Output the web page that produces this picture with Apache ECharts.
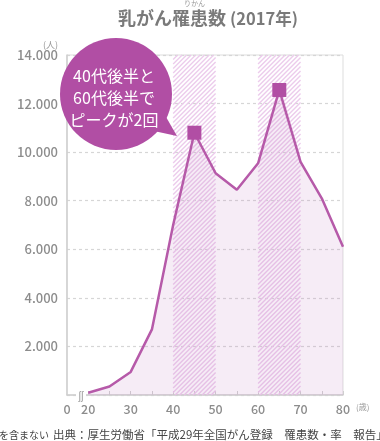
<!DOCTYPE html>
<html>
<head>
<meta charset="utf-8">
<script src="https://cdn.jsdelivr.net/npm/echarts@6/dist/echarts.min.js"></script>
<style>
html,body{margin:0;padding:0;background:#fff;}
#c{width:380px;height:441px;}
</style>
</head>
<body>
<div id="c"></div>
<script>
const ages = [20, 25, 30, 35, 40, 45, 50, 55, 60, 65, 70, 75, 80];
const cases = [90, 350, 950, 2700, 7000, 10800, 9130, 8450, 9540, 12560, 9600, 8100, 6100];
const peakAges = [45, 65];
const hatchBands = [[40, 50], [60, 70]];
const xLabelValues = [15, 20, 30, 40, 50, 60, 70, 80];
const xTickValues = [20, 25, 30, 35, 40, 45, 50, 55, 60, 65, 70, 75, 80];
const calloutLines = ['40代後半と', '60代後半で', 'ピークが2回'];

const FONT = '"Noto Sans CJK JP", "Noto Sans", sans-serif';
const PURPLE = '#b14ea4';
const HATCH = 'rgb(236,204,236)';
const Y_MAX = 14000;

function renderHatch(params, api) {
  const a = api.coord([api.value(0), Y_MAX]);
  const b = api.coord([api.value(1), 0]);
  const L = a[0], T = a[1], R = b[0], B = b[1];
  const children = [];
  const step = 4.5;
  for (let c = L + T; c <= R + B; c += step) {
    const xa = Math.max(L, c - B), xb = Math.min(R, c - T);
    if (xb <= xa) continue;
    children.push({ type: 'line', shape: { x1: xa, y1: c - xa, x2: xb, y2: c - xb },
      style: { stroke: HATCH, lineWidth: 1.4 } });
  }
  return { type: 'group', children };
}

const chart = echarts.init(document.getElementById('c'));
chart.setOption({
  animation: false,
  textStyle: { fontFamily: FONT },
  grid: { left: 67, right: 37, top: 55, bottom: 46, show: true, borderColor: '#dddddd', borderWidth: 1 },
  xAxis: {
    type: 'value', min: 15, max: 80,
    name: '(歳)', nameLocation: 'end', nameGap: 6,
    nameTextStyle: { fontSize: 8, color: '#999', verticalAlign: 'top', padding: [8, 0, 0, 0] },
    axisLine: { show: true, lineStyle: { color: '#cfcfcf', width: 1.5 } },
    axisTick: { show: true, inside: true, length: 4, customValues: xTickValues, lineStyle: { color: '#cfcfcf' } },
    axisLabel: {
      customValues: xLabelValues, color: '#8c8c8c', fontSize: 12.5, margin: 8, fontWeight: 500,
      formatter: v => v === 15 ? '0' : String(v)
    },
    splitLine: { show: false }
  },
  yAxis: {
    type: 'value', min: 0, max: Y_MAX, interval: 2000,
    name: '(人)', nameLocation: 'end', nameGap: 4,
    nameTextStyle: { fontSize: 9, color: '#999', align: 'right', padding: [0, 9, 0, 0] },
    axisLine: { show: true, lineStyle: { color: '#cfcfcf', width: 1.5 } },
    axisTick: { show: false },
    axisLabel: {
      color: '#8c8c8c', fontSize: 13, margin: 9, fontWeight: 500,
      formatter: v => v === 0 ? '' : String(v).replace(/(\d+)(\d{3})$/, '$1.$2')
    },
    splitLine: { show: true, lineStyle: { color: '#d6d6d6', type: [3, 3], width: 1.2 } }
  },
  series: [{
    type: 'custom',
    renderItem: renderHatch,
    data: hatchBands,
    itemStyle: { color: HATCH },
    colorBy: 'series',
    silent: true,
    z: 1
  }, {
    type: 'line',
    data: ages.map((a, i) => [a, cases[i]]),
    lineStyle: { color: '#b65aa9', width: 2.5 },
    itemStyle: { color: PURPLE },
    symbol: (v) => peakAges.includes(v[0]) ? 'rect' : 'none',
    symbolSize: (v) => peakAges.includes(v[0]) ? 14 : 0,
    showSymbol: true,
    areaStyle: { color: 'rgba(196,130,196,0.22)' },
    z: 3
  }],
  graphic: [
    { type: 'text', left: 118, top: 9, style: { text: '乳がん罹患数', fill: '#7a7a7a', font: 'bold 18px ' + FONT } },
    { type: 'text', x: 230, y: 19, style: { text: '(2017年)', fill: '#7a7a7a', font: 'bold 16.5px ' + FONT, verticalAlign: 'middle' } },
    { type: 'text', left: 184, top: 0, style: { text: 'りかん', fill: '#999', font: '7px ' + FONT } },
    { type: 'polygon', shape: { points: [[140, 128], [162, 110], [177, 136]] }, style: { fill: PURPLE }, z: 10 },
    { type: 'circle', shape: { cx: 116, cy: 94, r: 56 }, style: { fill: PURPLE }, z: 10 },
    { type: 'text', x: 114, y: 98, z: 11, style: {
        text: calloutLines.join('\n'), fill: '#fff', font: '16px ' + FONT,
        align: 'center', verticalAlign: 'middle', lineHeight: 22 } },
    { type: 'rect', shape: { x: 76, y: 392, width: 10, height: 7 }, style: { fill: '#fff' }, z: 10 },
    { type: 'text', x: 81, y: 395.5, z: 11, style: { text: 'ʃʃ', fill: '#999', font: '10px ' + FONT, align: 'center', verticalAlign: 'middle' } },
    { type: 'text', x: 49, y: 435, style: { text: 'を含まない', fill: '#444', font: '10px ' + FONT, align: 'right', verticalAlign: 'middle' } },
    { type: 'text', x: 53, y: 435, style: { text: '出典：厚生労働省「平成29年全国がん登録\u3000罹患数・率\u3000報告」', fill: '#444', font: '11.5px ' + FONT, verticalAlign: 'middle' } }
  ]
});
</script>
</body>
</html>
